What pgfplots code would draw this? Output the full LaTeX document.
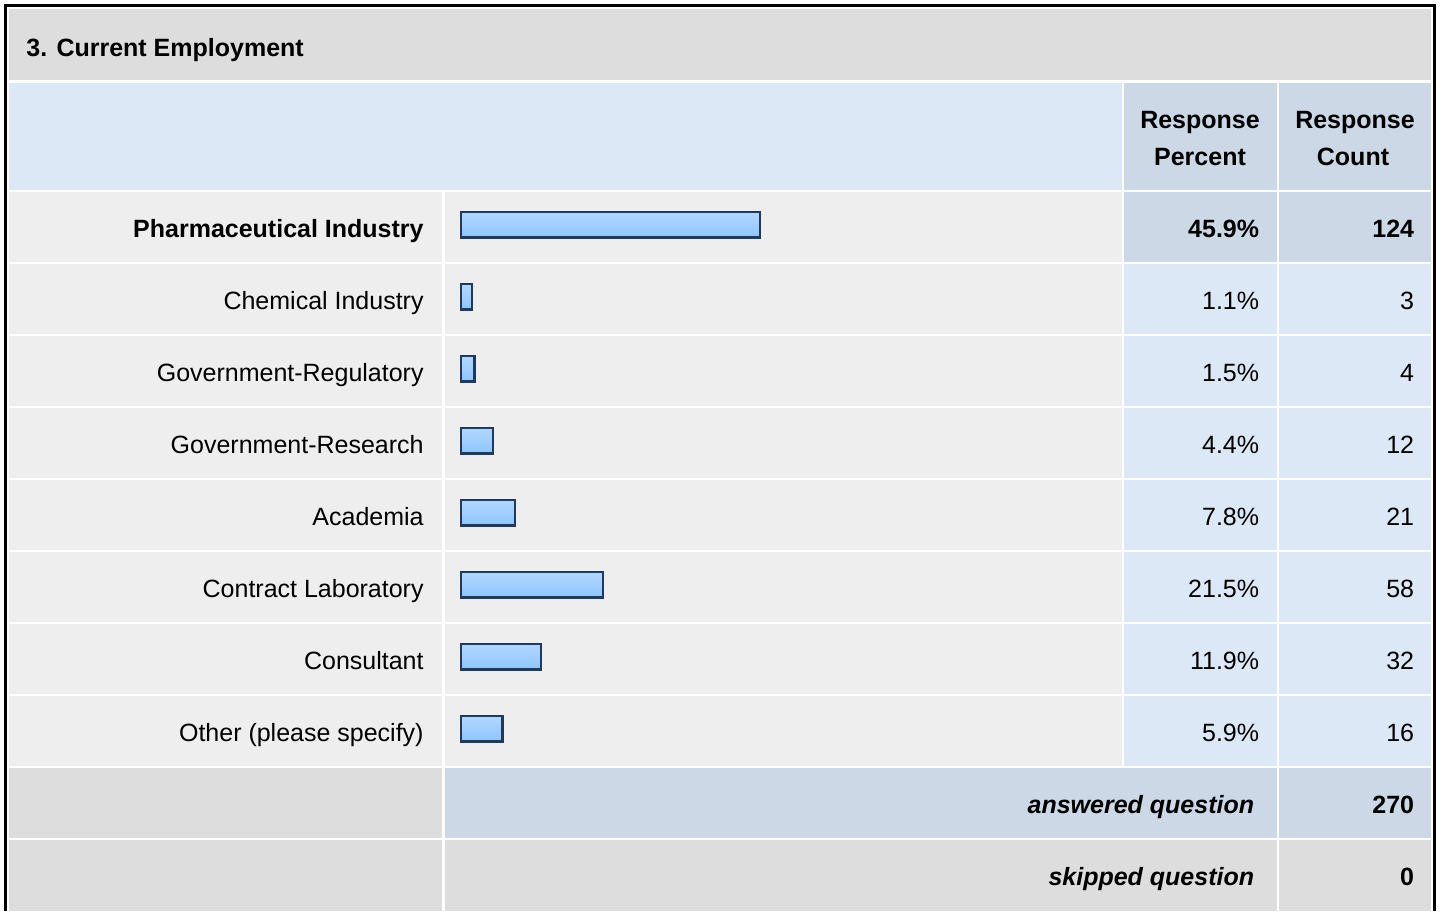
\documentclass[border=0pt]{standalone}
\usepackage{pgfplots}
\usepackage{pgfplotstable}
\pgfplotsset{compat=1.18}
\usepackage{fontspec}
\setmainfont{Liberation Sans}
\definecolor{titlebg}{HTML}{DDDDDD}
\definecolor{hdrlight}{HTML}{DDE8F6}
\definecolor{hdrdark}{HTML}{CCD8E6}
\definecolor{rowbg}{HTML}{EEEEEE}
\definecolor{barline}{HTML}{1E3A5F}
\definecolor{bartop}{HTML}{B2D7FF}
\definecolor{barmid}{HTML}{76ACF0}
\definecolor{barbot}{HTML}{90C4FF}
\newcommand\fs{\fontsize{12.5pt}{15pt}\selectfont}

\pgfplotstableread{
row pct count
0 45.9 124
1 1.1 3
2 1.5 4
3 4.4 12
4 7.8 21
5 21.5 58
6 11.9 32
7 5.9 16
}\datatable

\begin{document}
\begin{tikzpicture}
% background / table axis in pixel units
\begin{axis}[
  scale only axis, width=720pt, height=455.5pt,
  xmin=0, xmax=1440, ymin=0, ymax=911, y dir=reverse,
  hide axis, clip=false,
]
\fill[white] (axis cs:0,0) rectangle (axis cs:1440,911);
% title
\fill[titlebg] (axis cs:9,9) rectangle (axis cs:1431,80);
% header
\fill[hdrlight] (axis cs:9,82.5) rectangle (axis cs:1122,190);
\fill[hdrdark] (axis cs:1124,82.5) rectangle (axis cs:1276.5,190);
\fill[hdrdark] (axis cs:1279,82.5) rectangle (axis cs:1431,190);
% rows: label + bar cells
\fill[rowbg] (axis cs:9,192) rectangle (axis cs:442,262);
\fill[rowbg] (axis cs:9,264) rectangle (axis cs:442,334);
\fill[rowbg] (axis cs:9,336) rectangle (axis cs:442,406);
\fill[rowbg] (axis cs:9,408) rectangle (axis cs:442,478);
\fill[rowbg] (axis cs:9,480) rectangle (axis cs:442,550);
\fill[rowbg] (axis cs:9,552) rectangle (axis cs:442,622);
\fill[rowbg] (axis cs:9,624) rectangle (axis cs:442,694);
\fill[rowbg] (axis cs:9,696) rectangle (axis cs:442,766);
\fill[rowbg] (axis cs:444.5,192) rectangle (axis cs:1122,262);
\fill[rowbg] (axis cs:444.5,264) rectangle (axis cs:1122,334);
\fill[rowbg] (axis cs:444.5,336) rectangle (axis cs:1122,406);
\fill[rowbg] (axis cs:444.5,408) rectangle (axis cs:1122,478);
\fill[rowbg] (axis cs:444.5,480) rectangle (axis cs:1122,550);
\fill[rowbg] (axis cs:444.5,552) rectangle (axis cs:1122,622);
\fill[rowbg] (axis cs:444.5,624) rectangle (axis cs:1122,694);
\fill[rowbg] (axis cs:444.5,696) rectangle (axis cs:1122,766);
% percent / count cells
\fill[hdrdark] (axis cs:1124,192) rectangle (axis cs:1276.5,262);
\fill[hdrdark] (axis cs:1279,192) rectangle (axis cs:1431,262);
\fill[hdrlight] (axis cs:1124,264) rectangle (axis cs:1276.5,334);
\fill[hdrlight] (axis cs:1124,336) rectangle (axis cs:1276.5,406);
\fill[hdrlight] (axis cs:1124,408) rectangle (axis cs:1276.5,478);
\fill[hdrlight] (axis cs:1124,480) rectangle (axis cs:1276.5,550);
\fill[hdrlight] (axis cs:1124,552) rectangle (axis cs:1276.5,622);
\fill[hdrlight] (axis cs:1124,624) rectangle (axis cs:1276.5,694);
\fill[hdrlight] (axis cs:1124,696) rectangle (axis cs:1276.5,766);
\fill[hdrlight] (axis cs:1279,264) rectangle (axis cs:1431,334);
\fill[hdrlight] (axis cs:1279,336) rectangle (axis cs:1431,406);
\fill[hdrlight] (axis cs:1279,408) rectangle (axis cs:1431,478);
\fill[hdrlight] (axis cs:1279,480) rectangle (axis cs:1431,550);
\fill[hdrlight] (axis cs:1279,552) rectangle (axis cs:1431,622);
\fill[hdrlight] (axis cs:1279,624) rectangle (axis cs:1431,694);
\fill[hdrlight] (axis cs:1279,696) rectangle (axis cs:1431,766);
% answered / skipped
\fill[titlebg] (axis cs:9,768) rectangle (axis cs:442,838);
\fill[hdrdark] (axis cs:444.5,768) rectangle (axis cs:1276.5,838);
\fill[hdrdark] (axis cs:1279,768) rectangle (axis cs:1431,838);
\fill[titlebg] (axis cs:9,840) rectangle (axis cs:442,911);
\fill[titlebg] (axis cs:444.5,840) rectangle (axis cs:1276.5,911);
\fill[titlebg] (axis cs:1279,840) rectangle (axis cs:1431,911);
% outer border
\draw[black, line width=1.5pt] (axis cs:5.5,911) -- (axis cs:5.5,5.5) -- (axis cs:1434.5,5.5) -- (axis cs:1434.5,911);
% texts
\node[anchor=base west, inner sep=0, font=\fs\bfseries] at (axis cs:26,56) {3. Current Employment};
\node[anchor=base, inner sep=0, font=\fs\bfseries] at (axis cs:1200,128) {Response};
\node[anchor=base, inner sep=0, font=\fs\bfseries] at (axis cs:1200,165) {Percent};
\node[anchor=base, inner sep=0, font=\fs\bfseries] at (axis cs:1355,128) {Response};
\node[anchor=base, inner sep=0, font=\fs\bfseries] at (axis cs:1353,165) {Count};
\node[anchor=base east, inner sep=0, font=\fs\bfseries] at (axis cs:424,237) {Pharmaceutical Industry};
\node[anchor=base east, inner sep=0, font=\fs] at (axis cs:424,309) {Chemical Industry};
\node[anchor=base east, inner sep=0, font=\fs] at (axis cs:424,381) {Government-Regulatory};
\node[anchor=base east, inner sep=0, font=\fs] at (axis cs:424,453) {Government-Research};
\node[anchor=base east, inner sep=0, font=\fs] at (axis cs:424,525) {Academia};
\node[anchor=base east, inner sep=0, font=\fs] at (axis cs:424,597) {Contract Laboratory};
\node[anchor=base east, inner sep=0, font=\fs] at (axis cs:424,669) {Consultant};
\node[anchor=base east, inner sep=0, font=\fs] at (axis cs:424,741) {Other (please specify)};
\node[anchor=base east, inner sep=0, font=\fs\bfseries] at (axis cs:1259.5,237) {45.9\%};
\node[anchor=base east, inner sep=0, font=\fs] at (axis cs:1259.5,309) {1.1\%};
\node[anchor=base east, inner sep=0, font=\fs] at (axis cs:1259.5,381) {1.5\%};
\node[anchor=base east, inner sep=0, font=\fs] at (axis cs:1259.5,453) {4.4\%};
\node[anchor=base east, inner sep=0, font=\fs] at (axis cs:1259.5,525) {7.8\%};
\node[anchor=base east, inner sep=0, font=\fs] at (axis cs:1259.5,597) {21.5\%};
\node[anchor=base east, inner sep=0, font=\fs] at (axis cs:1259.5,669) {11.9\%};
\node[anchor=base east, inner sep=0, font=\fs] at (axis cs:1259.5,741) {5.9\%};
\node[anchor=base east, inner sep=0, font=\fs\bfseries] at (axis cs:1414.5,237) {124};
\node[anchor=base east, inner sep=0, font=\fs] at (axis cs:1414.5,309) {3};
\node[anchor=base east, inner sep=0, font=\fs] at (axis cs:1414.5,381) {4};
\node[anchor=base east, inner sep=0, font=\fs] at (axis cs:1414.5,453) {12};
\node[anchor=base east, inner sep=0, font=\fs] at (axis cs:1414.5,525) {21};
\node[anchor=base east, inner sep=0, font=\fs] at (axis cs:1414.5,597) {58};
\node[anchor=base east, inner sep=0, font=\fs] at (axis cs:1414.5,669) {32};
\node[anchor=base east, inner sep=0, font=\fs] at (axis cs:1414.5,741) {16};
\node[anchor=base east, inner sep=0, font=\fs\bfseries\itshape] at (axis cs:1254.5,813) {answered question};
\node[anchor=base east, inner sep=0, font=\fs\bfseries] at (axis cs:1414.5,813) {270};
\node[anchor=base east, inner sep=0, font=\fs\bfseries\itshape] at (axis cs:1254.5,885) {skipped question};
\node[anchor=base east, inner sep=0, font=\fs\bfseries] at (axis cs:1414.5,885) {0};
\end{axis}
% bar axis: x in percent, zero at pixel 461.2, 6.43 px per percent
\begin{axis}[
  scale only axis, width=720pt, height=455.5pt,
  xmin=-71.73, xmax=152.22, ymin=0, ymax=911, y dir=reverse,
  hide axis, clip=false,
]
\pgfplotsinvokeforeach{0,...,7}{
\addplot[xbar, bar width=25.5, draw=barline, line width=1.25pt,
  top color=bartop, middle color=barmid, bottom color=barbot]
  table[x expr=\thisrow{pct}+0.54, y expr=224.5+72*\thisrow{row},
        restrict expr to domain={\thisrow{row}}{#1:#1}] {\datatable};
}
\end{axis}
\end{tikzpicture}
\end{document}
